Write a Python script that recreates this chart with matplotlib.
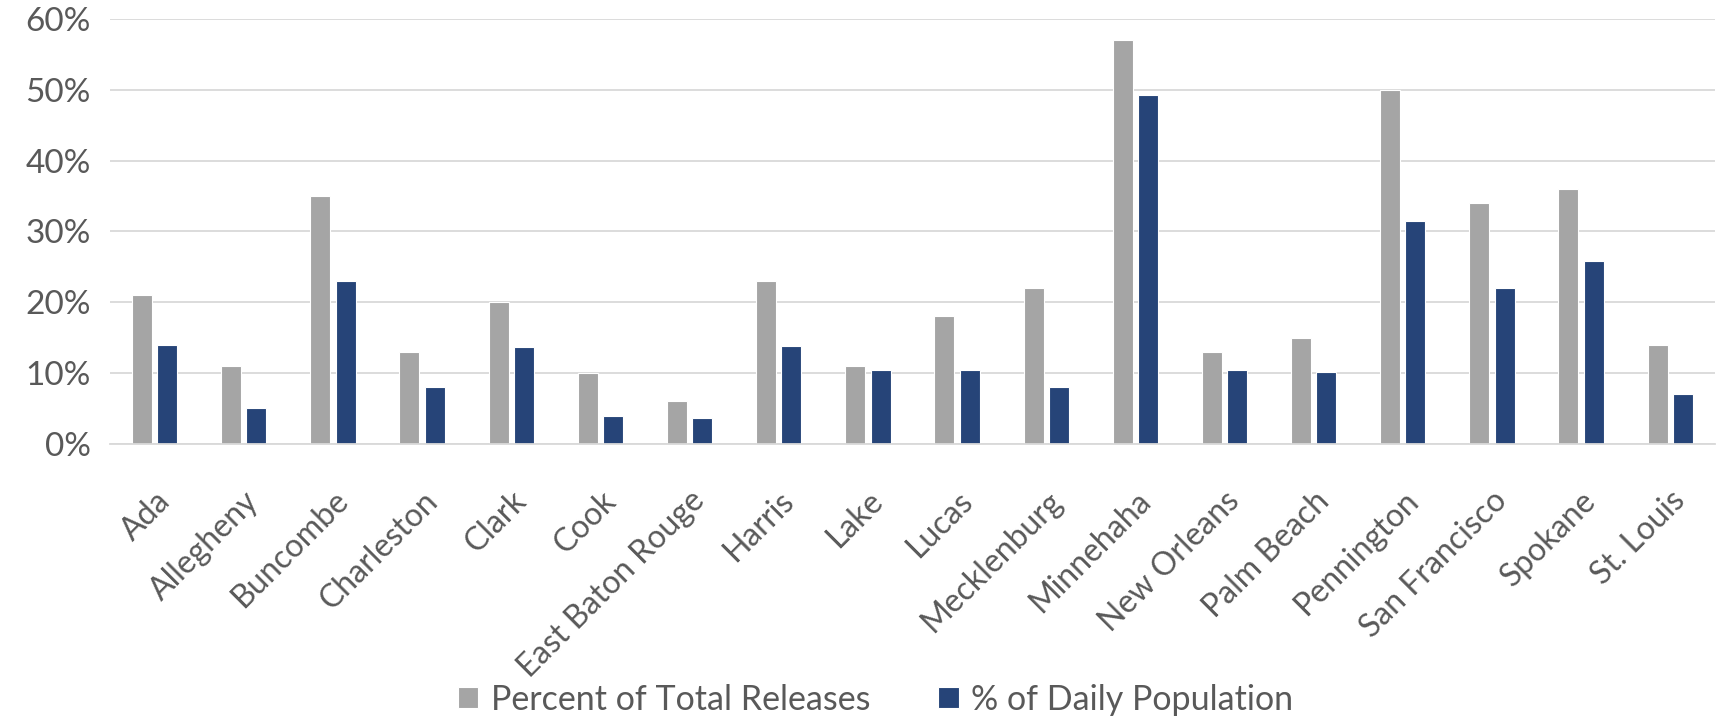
import numpy as np
import matplotlib
matplotlib.use('Agg')
import matplotlib.pyplot as plt
from matplotlib.ticker import PercentFormatter

plt.rcParams['font.family'] = ['Lato', 'DejaVu Sans']

# ── Datos ────────────────────────────────────────────────────────────────────
condados = ['Ada', 'Allegheny', 'Buncombe', 'Charleston', 'Clark', 'Cook',
            'East Baton Rouge', 'Harris', 'Lake', 'Lucas', 'Mecklenburg',
            'Minnehaha', 'New Orleans', 'Palm Beach', 'Pennington',
            'San Francisco', 'Spokane', 'St. Louis']
pct_liberaciones = [21, 11, 35, 13, 20, 10, 6, 23, 11, 18, 22, 57, 13, 15,
                    50, 34, 36, 14]
pct_poblacion = [14, 5.1, 23, 8.1, 13.7, 3.9, 3.7, 13.8, 10.4, 10.5, 8.0,
                 49.3, 10.5, 10.2, 31.5, 22.0, 25.8, 7.1]
yticks = [0, 10, 20, 30, 40, 50, 60]

GRIS = '#A5A5A5'
AZUL = '#264478'
TEXTO = '#595959'
REJILLA = '#D9D9D9'

# ── Figura ───────────────────────────────────────────────────────────────────
fig = plt.figure(figsize=(17.2, 7.19), dpi=100)
ax = fig.add_axes([0.064, 0.3825, 0.933, 0.5911])

x = np.arange(len(condados))
ancho = 0.224
b1 = ax.bar(x - 0.142, pct_liberaciones, ancho, color=GRIS,
            edgecolor='white', linewidth=0.8, label='Percent of Total Releases',
            zorder=3)
b2 = ax.bar(x + 0.142, pct_poblacion, ancho, color=AZUL,
            edgecolor='white', linewidth=0.8, label='% of Daily Population',
            zorder=3)

ax.set_xlim(-0.5, len(condados) - 0.5)
ax.set_ylim(0, 60)
ax.set_yticks(yticks)
ax.yaxis.set_major_formatter(PercentFormatter(decimals=0))
ax.grid(axis='y', color=REJILLA, linewidth=1.3, zorder=0)
ax.set_axisbelow(True)

for s in ['top', 'right', 'left']:
    ax.spines[s].set_visible(False)
ax.spines['bottom'].set_color(REJILLA)
ax.spines['bottom'].set_linewidth(1.3)
ax.spines['bottom'].set_zorder(4)

ax.tick_params(axis='y', length=0, pad=14, labelsize=24, labelcolor=TEXTO)
ax.tick_params(axis='x', length=0, pad=30, labelcolor=TEXTO)
ax.set_xticks(x)
ax.set_xticklabels(condados, rotation=45, ha='right', va='top',
                   rotation_mode='anchor', fontsize=23)

ax.legend(handles=[b1, b2], loc='center', bbox_to_anchor=(0.509, 0.027),
          bbox_transform=fig.transFigure, ncol=2, frameon=False,
          fontsize=24.5, labelcolor=TEXTO, handlelength=0.6, handleheight=0.6,
          handletextpad=0.36, columnspacing=2.0)

plt.savefig('out.png', dpi=100)
